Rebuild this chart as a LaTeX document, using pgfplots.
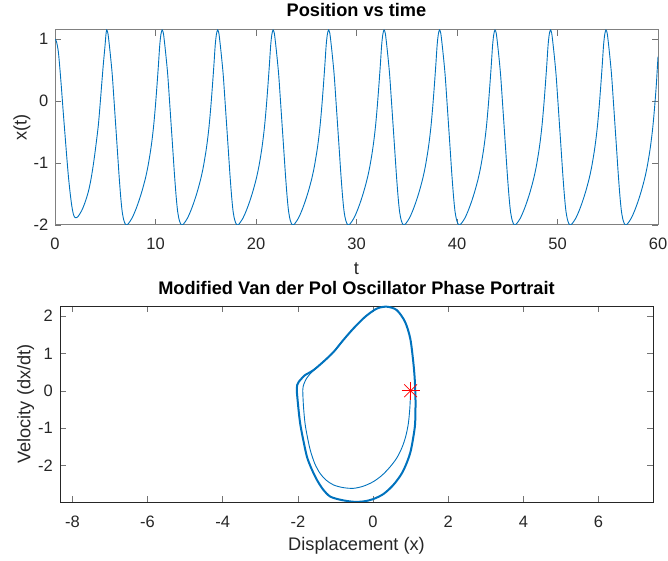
\documentclass[border=0pt]{standalone}
\usepackage{pgfplots}
\pgfplotsset{compat=1.18}
\usepackage{fontspec}
\setmainfont{Liberation Sans}
\definecolor{mblue}{rgb}{0,0.447,0.741}
\definecolor{axgray}{rgb}{0.15,0.15,0.15}
\newcommand{\tickfont}{\fontsize{16.5bp}{19bp}\selectfont}
\newcommand{\labfont}{\fontsize{18.2bp}{21bp}\selectfont}
\begin{document}
\begin{tikzpicture}[x=1bp,y=1bp]
\path[use as bounding box] (0,0) rectangle (668,561);
\begin{axis}[
  at={(55bp,336bp)}, anchor=south west, scale only axis,
  width=603bp, height=195bp,
  xmin=0, xmax=60, ymin=-2, ymax=1.15,
  xtick={0,10,20,30,40,50,60}, ytick={-2,-1,0,1},
  xticklabels={0,10,20,30,40,50,60}, yticklabels={-2,-1,0,1},
  axis line style={black!50, line width=1bp},
  tick style={black!55, line width=0.6bp}, major tick length=6bp,
  ticklabel style={font=\tickfont, text=axgray, inner sep=0pt},
  xticklabel style={anchor=north, yshift=-13bp},
  yticklabel style={anchor=east, xshift=-6.5bp},
  title={Position vs time},
  title style={font=\bfseries\labfont, at={(axis description cs:0.5,1.041)}, anchor=base, inner sep=0pt},
  xlabel={t},
  xlabel style={font=\labfont, text=axgray, at={(axis description cs:0.5,-0.2564)}, anchor=base, inner sep=0pt},
  ylabel={x(t)},
  ylabel style={font=\labfont, text=axgray, at={(axis description cs:-0.0547,0.5)}, anchor=center, inner sep=0pt},
]
\addplot[mblue, line width=0.9bp, smooth, tension=0.5] coordinates {
(0.00,1.00)(0.15,0.96)(0.33,0.80)(0.50,0.50)(0.67,0.15)(0.83,-0.20)(1.00,-0.55)(1.16,-0.88)(1.32,-1.19)(1.49,-1.46)(1.66,-1.68)(1.82,-1.82)(1.99,-1.88)(2.25,-1.87)(2.65,-1.77)(3.00,-1.63)(3.32,-1.46)(3.57,-1.27)(3.81,-1.03)(4.06,-0.73)(4.31,-0.39)(4.48,-0.07)(4.64,0.26)(4.81,0.60)(4.98,0.90)(5.06,1.06)
(5.14,1.15)(5.26,1.10)(5.37,0.96)(5.54,0.70)(5.70,0.42)(5.87,0.02)(6.04,-0.39)(6.21,-0.80)(6.37,-1.19)(6.54,-1.55)(6.69,-1.79)(6.86,-1.93)(7.06,-2.00)(7.29,-1.98)(7.66,-1.89)(7.99,-1.77)(8.33,-1.62)(8.66,-1.45)(8.99,-1.25)(9.24,-1.06)(9.49,-0.82)(9.66,-0.62)(9.82,-0.39)(9.99,-0.08)(10.15,0.26)(10.29,0.58)(10.42,0.90)(10.54,1.08)
(10.66,1.15)(10.78,1.10)(10.89,0.96)(11.06,0.70)(11.22,0.42)(11.39,0.02)(11.56,-0.39)(11.73,-0.80)(11.89,-1.19)(12.06,-1.55)(12.21,-1.79)(12.38,-1.93)(12.58,-2.00)(12.81,-1.98)(13.18,-1.89)(13.51,-1.77)(13.85,-1.62)(14.18,-1.45)(14.51,-1.25)(14.76,-1.06)(15.01,-0.82)(15.18,-0.62)(15.34,-0.39)(15.51,-0.08)(15.67,0.26)(15.81,0.58)(15.94,0.90)(16.06,1.08)
(16.18,1.15)(16.30,1.10)(16.41,0.96)(16.58,0.70)(16.74,0.42)(16.91,0.02)(17.08,-0.39)(17.25,-0.80)(17.41,-1.19)(17.58,-1.55)(17.73,-1.79)(17.90,-1.93)(18.10,-2.00)(18.33,-1.98)(18.70,-1.89)(19.03,-1.77)(19.37,-1.62)(19.70,-1.45)(20.03,-1.25)(20.28,-1.06)(20.53,-0.82)(20.70,-0.62)(20.86,-0.39)(21.03,-0.08)(21.19,0.26)(21.33,0.58)(21.46,0.90)(21.58,1.08)
(21.70,1.15)(21.82,1.10)(21.93,0.96)(22.10,0.70)(22.26,0.42)(22.43,0.02)(22.60,-0.39)(22.77,-0.80)(22.93,-1.19)(23.10,-1.55)(23.25,-1.79)(23.42,-1.93)(23.62,-2.00)(23.85,-1.98)(24.22,-1.89)(24.55,-1.77)(24.89,-1.62)(25.22,-1.45)(25.55,-1.25)(25.80,-1.06)(26.05,-0.82)(26.22,-0.62)(26.38,-0.39)(26.55,-0.08)(26.71,0.26)(26.85,0.58)(26.98,0.90)(27.10,1.08)
(27.22,1.15)(27.34,1.10)(27.45,0.96)(27.62,0.70)(27.78,0.42)(27.95,0.02)(28.12,-0.39)(28.29,-0.80)(28.45,-1.19)(28.62,-1.55)(28.77,-1.79)(28.94,-1.93)(29.14,-2.00)(29.37,-1.98)(29.74,-1.89)(30.07,-1.77)(30.41,-1.62)(30.74,-1.45)(31.07,-1.25)(31.32,-1.06)(31.57,-0.82)(31.74,-0.62)(31.90,-0.39)(32.07,-0.08)(32.23,0.26)(32.37,0.58)(32.50,0.90)(32.62,1.08)
(32.74,1.15)(32.86,1.10)(32.97,0.96)(33.14,0.70)(33.30,0.42)(33.47,0.02)(33.64,-0.39)(33.81,-0.80)(33.97,-1.19)(34.14,-1.55)(34.29,-1.79)(34.46,-1.93)(34.66,-2.00)(34.89,-1.98)(35.26,-1.89)(35.59,-1.77)(35.93,-1.62)(36.26,-1.45)(36.59,-1.25)(36.84,-1.06)(37.09,-0.82)(37.26,-0.62)(37.42,-0.39)(37.59,-0.08)(37.75,0.26)(37.89,0.58)(38.02,0.90)(38.14,1.08)
(38.26,1.15)(38.38,1.10)(38.49,0.96)(38.66,0.70)(38.82,0.42)(38.99,0.02)(39.16,-0.39)(39.33,-0.80)(39.49,-1.19)(39.66,-1.55)(39.81,-1.79)(39.98,-1.93)(40.18,-2.00)(40.41,-1.98)(40.78,-1.89)(41.11,-1.77)(41.45,-1.62)(41.78,-1.45)(42.11,-1.25)(42.36,-1.06)(42.61,-0.82)(42.78,-0.62)(42.94,-0.39)(43.11,-0.08)(43.27,0.26)(43.41,0.58)(43.54,0.90)(43.66,1.08)
(43.78,1.15)(43.90,1.10)(44.01,0.96)(44.18,0.70)(44.34,0.42)(44.51,0.02)(44.68,-0.39)(44.85,-0.80)(45.01,-1.19)(45.18,-1.55)(45.33,-1.79)(45.50,-1.93)(45.70,-2.00)(45.93,-1.98)(46.30,-1.89)(46.63,-1.77)(46.97,-1.62)(47.30,-1.45)(47.63,-1.25)(47.88,-1.06)(48.13,-0.82)(48.30,-0.62)(48.46,-0.39)(48.63,-0.08)(48.79,0.26)(48.93,0.58)(49.06,0.90)(49.18,1.08)
(49.30,1.15)(49.42,1.10)(49.53,0.96)(49.70,0.70)(49.86,0.42)(50.03,0.02)(50.20,-0.39)(50.37,-0.80)(50.53,-1.19)(50.70,-1.55)(50.85,-1.79)(51.02,-1.93)(51.22,-2.00)(51.45,-1.98)(51.82,-1.89)(52.15,-1.77)(52.49,-1.62)(52.82,-1.45)(53.15,-1.25)(53.40,-1.06)(53.65,-0.82)(53.82,-0.62)(53.98,-0.39)(54.15,-0.08)(54.31,0.26)(54.45,0.58)(54.58,0.90)(54.70,1.08)
(54.82,1.15)(54.94,1.10)(55.05,0.96)(55.22,0.70)(55.38,0.42)(55.55,0.02)(55.72,-0.39)(55.89,-0.80)(56.05,-1.19)(56.22,-1.55)(56.37,-1.79)(56.54,-1.93)(56.74,-2.00)(56.97,-1.98)(57.34,-1.89)(57.67,-1.77)(58.01,-1.62)(58.34,-1.45)(58.67,-1.25)(58.92,-1.06)(59.17,-0.82)(59.34,-0.62)(59.50,-0.39)(59.67,-0.08)(59.83,0.26)(60.00,0.72)
};
\end{axis}
\begin{axis}[
  at={(60bp,59bp)}, anchor=south west, scale only axis,
  width=593bp, height=196bp,
  xmin=-8.33, xmax=7.45, ymin=-2.976, ymax=2.27,
  xtick={-8,-6,-4,-2,0,2,4,6}, ytick={-2,-1,0,1,2},
  xticklabels={-8,-6,-4,-2,0,2,4,6}, yticklabels={-2,-1,0,1,2},
  axis line style={axgray, line width=0.6bp},
  tick style={black!55, line width=0.6bp}, major tick length=6bp,
  ticklabel style={font=\tickfont, text=axgray, inner sep=0pt},
  xticklabel style={anchor=north, yshift=-14bp},
  yticklabel style={anchor=east, xshift=-7bp},
  title={Modified Van der Pol Oscillator Phase Portrait},
  title style={font=\bfseries\labfont, at={(axis description cs:0.5,1.0306)}, anchor=base, inner sep=0pt},
  xlabel={Displacement (x)},
  xlabel style={font=\labfont, text=axgray, at={(axis description cs:0.5,-0.2449)}, anchor=base, inner sep=0pt},
  ylabel={Velocity (dx/dt)},
  ylabel style={font=\labfont, text=axgray, at={(axis description cs:-0.0577,0.5)}, anchor=center, inner sep=0pt},
]
\addplot[mblue, line width=0.9bp, smooth, tension=0.5] coordinates {
(1.00,0.00)(0.98,-0.45)(0.94,-0.87)(0.87,-1.22)(0.77,-1.52)(0.63,-1.80)(0.45,-2.04)(0.24,-2.26)(0.01,-2.43)(-0.25,-2.55)(-0.52,-2.61)(-0.80,-2.59)(-1.05,-2.52)(-1.25,-2.39)(-1.41,-2.21)(-1.55,-1.95)(-1.67,-1.59)(-1.75,-1.22)(-1.81,-0.87)(-1.85,-0.43)(-1.87,0.02)(-1.84,0.18)(-1.77,0.33)(-1.66,0.47)(-1.50,0.62)(-1.32,0.78)
};
\addplot[mblue, line width=2bp, smooth, tension=0.5] coordinates {
(-2.03,0.00)(-2.02,0.15)(-1.97,0.25)(-1.90,0.33)(-1.81,0.42)(-1.59,0.55)(-1.32,0.78)(-1.05,1.04)(-0.79,1.36)(-0.52,1.67)(-0.21,1.98)(0.10,2.20)(0.37,2.25)(0.63,2.16)(0.85,1.85)(0.99,1.40)(1.07,0.78)(1.11,0.30)(1.13,-0.25)(1.12,-0.87)(1.07,-1.25)(1.00,-1.62)(0.90,-1.92)(0.76,-2.22)(0.54,-2.52)(0.28,-2.76)(0.00,-2.90)(-0.25,-2.96)(-0.52,-2.97)(-0.85,-2.92)(-1.14,-2.83)(-1.33,-2.64)(-1.49,-2.39)(-1.64,-2.08)(-1.76,-1.76)(-1.86,-1.30)(-1.94,-0.87)(-1.99,-0.43)(-2.03,0.00)
};
\addplot[red, only marks, mark=+, mark size=9bp, mark options={line width=0.8bp}] coordinates {(1.00,0.00)};
\addplot[red, only marks, mark=x, mark size=9bp, mark options={line width=0.8bp}] coordinates {(1.00,0.00)};
\end{axis}
\end{tikzpicture}
\end{document}
